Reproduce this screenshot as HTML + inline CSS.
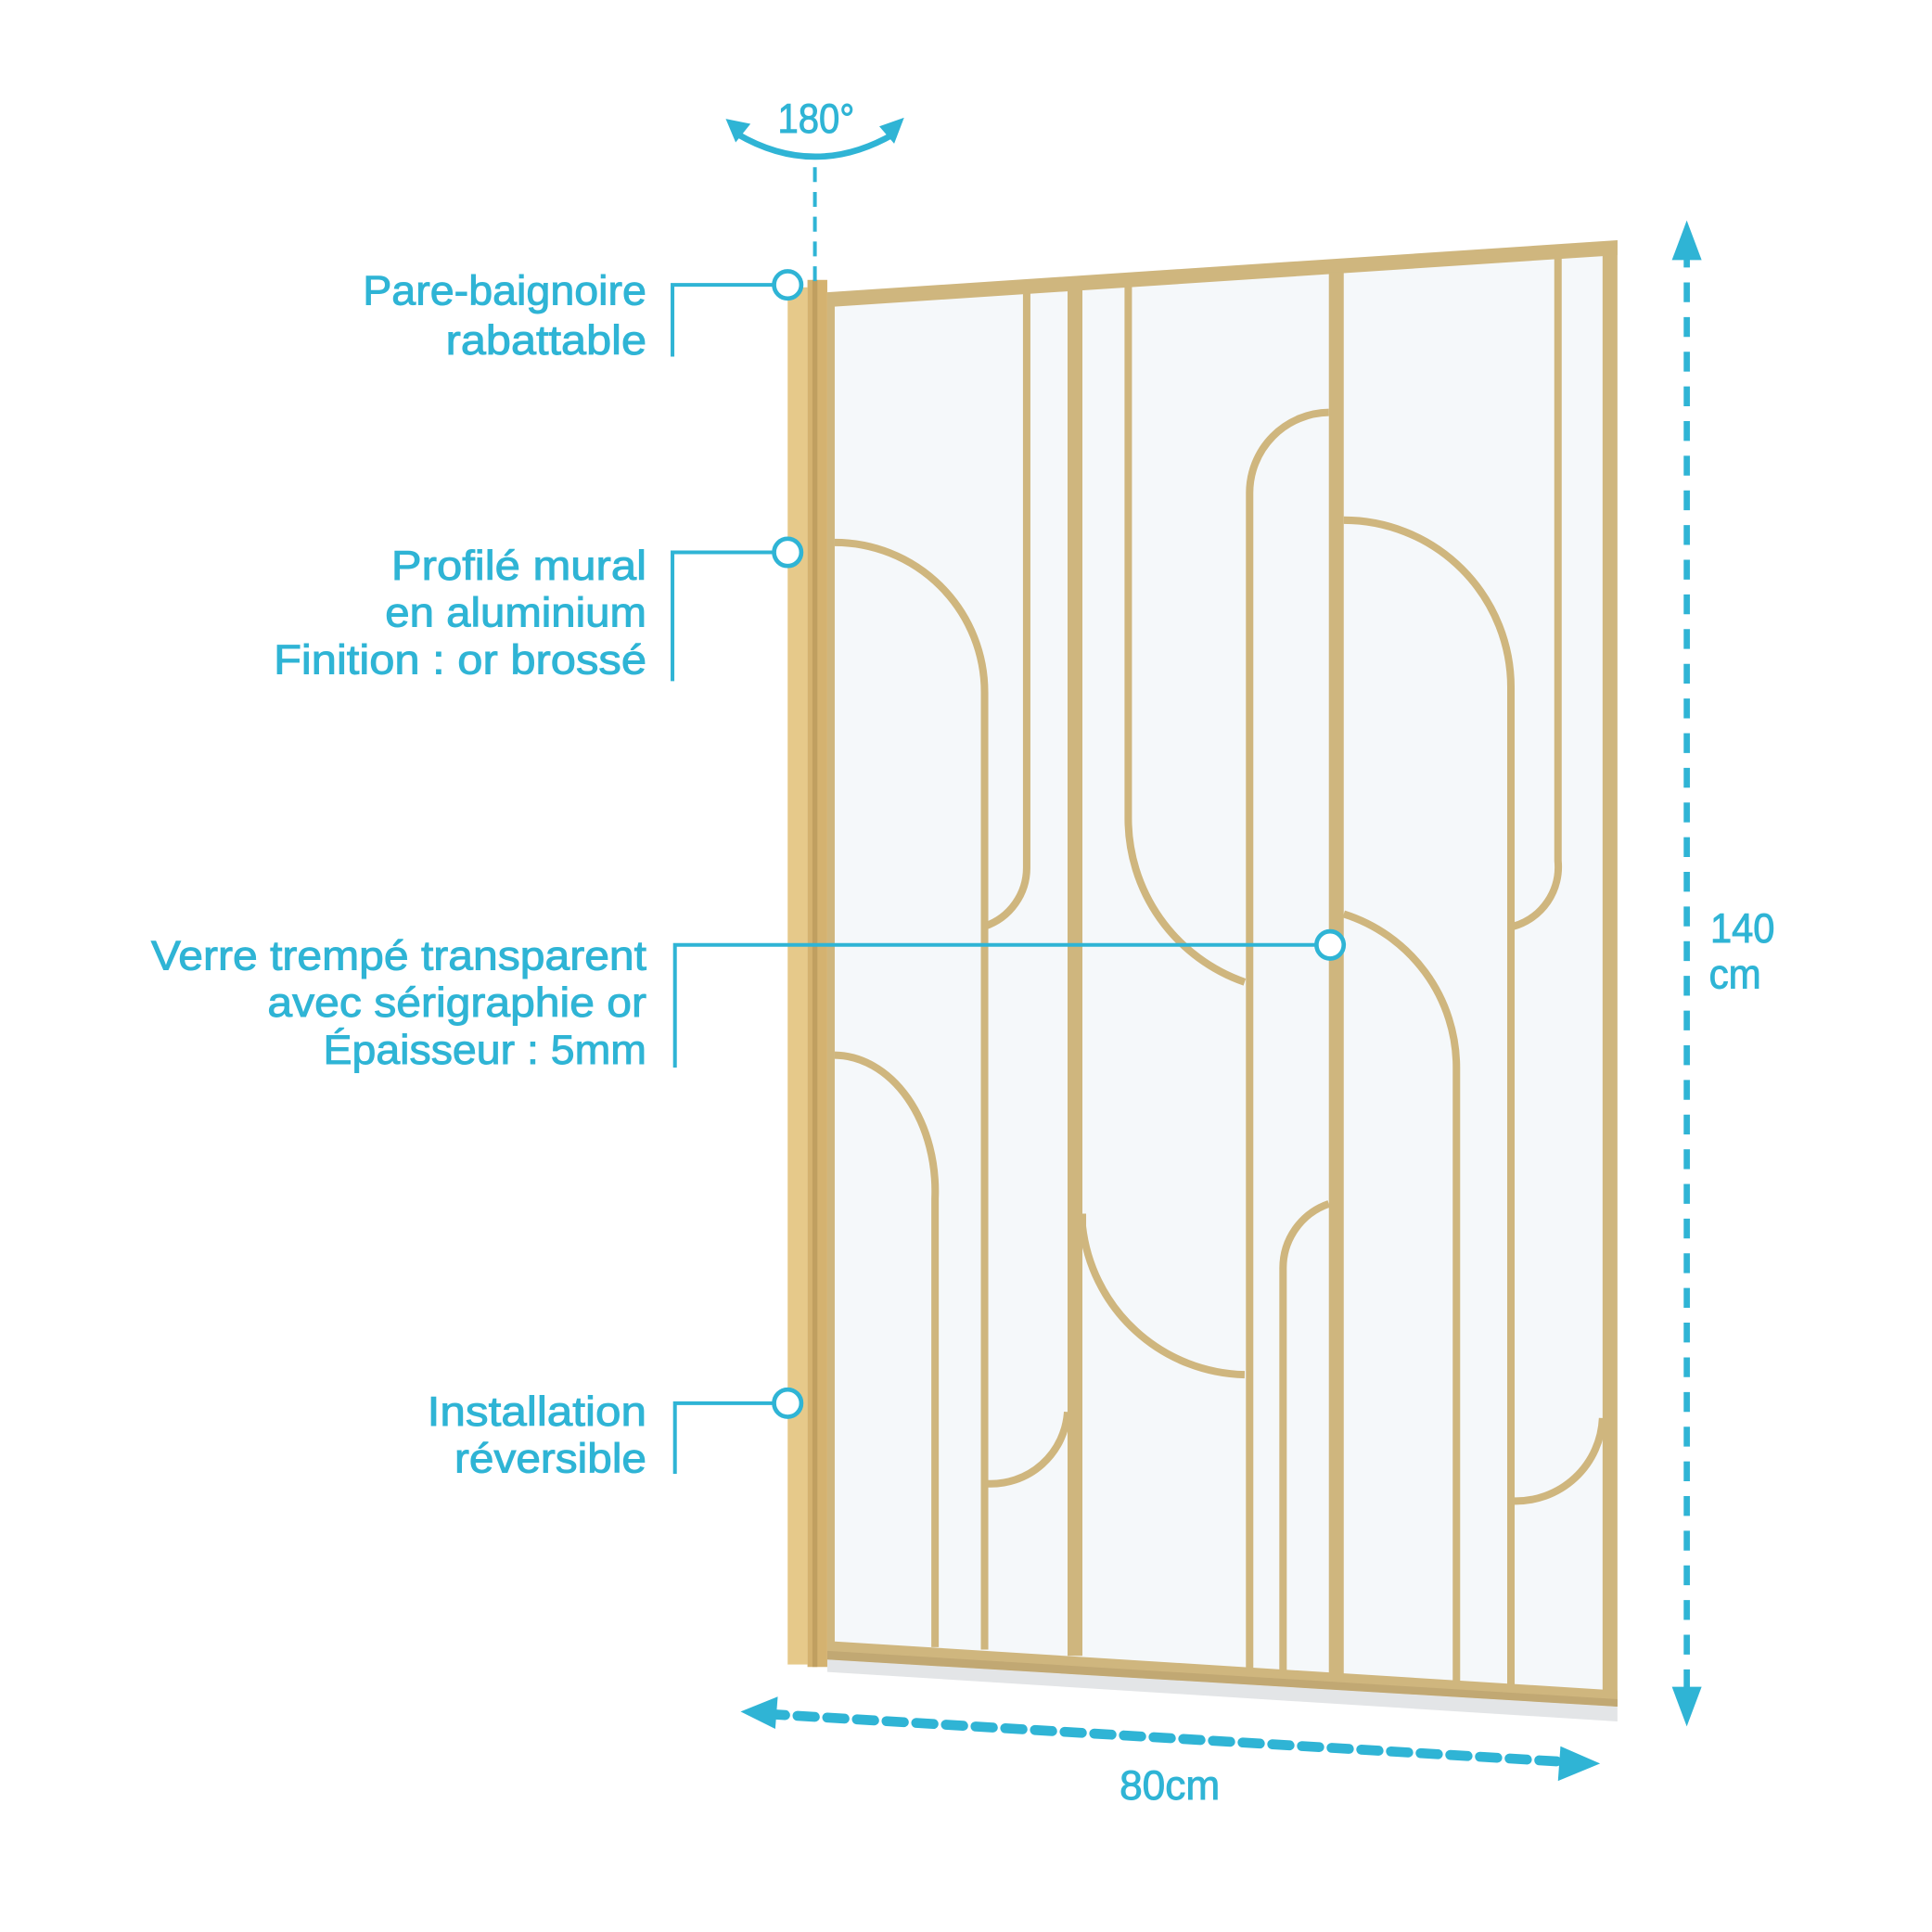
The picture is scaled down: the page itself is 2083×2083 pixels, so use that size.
<!DOCTYPE html>
<html><head><meta charset="utf-8"><style>
html,body{margin:0;padding:0;background:#fff;}
svg{display:block;}
text{font-family:"Liberation Sans Narrow","Liberation Sans",sans-serif;fill:#2fb4d5;stroke:#2fb4d5;stroke-width:0.7;font-size:33px;}
</style></head><body>
<svg width="2083" height="2083" viewBox="0 0 1560 1560" xmlns="http://www.w3.org/2000/svg">
<rect width="1560" height="1560" fill="#fff"/>
<polygon points="668,1340 1306,1378 1306,1390 668,1350" fill="#e3e5e7"/>
<polygon points="668,236 1306,194 1306,1378 668,1340" fill="#f5f8fa"/>
<g fill="#cfb67e">
<polygon points="668,236 1306,194 1306,206 668,248"/>
<polygon points="1294,200 1306,194 1306,1378 1294,1377"/>
<polygon points="668,1325 1306,1365 1306,1378 668,1340"/>
<rect x="668" y="240" width="6" height="1090"/>
</g>
<polygon points="668,1333 1306,1372 1306,1378 668,1340" fill="#b89f6c" opacity="0.6"/>
<g fill="none" stroke="#cfb67e" stroke-width="6">
<path d="M829,236 V700 A50,50 0 0 1 795,748"/>
<path d="M674,438 A121,121 0 0 1 795,559 V1332"/>
<path d="M911,231 V660 A140,140 0 0 0 1005,793"/>
<path d="M1073,333 A65,65 0 0 0 1009,398 V1348"/>
<path d="M1085,420 A135,135 0 0 1 1220,555 V1360"/>
<path d="M1258,208 V695 A50,50 0 0 1 1222,748"/>
<path d="M1085,738 A130,130 0 0 1 1176,862 V1358"/>
<path d="M1073,972 A55,55 0 0 0 1036,1025 V1350"/>
<path d="M874,980 V990 A135,135 0 0 0 1005,1110"/>
<path d="M674,852 A82,110 0 0 1 755,968 V1330"/>
<path d="M862,1140 A62,62 0 0 1 797,1198"/>
<path d="M1294,1145 A70,70 0 0 1 1222,1212"/>
</g>
<g fill="#cfb67e">
<rect x="862" y="232" width="12" height="1105"/>
<rect x="1073" y="220" width="12" height="1135"/>
</g>
<rect x="636" y="232" width="16" height="1112" fill="#e6c98a"/>
<rect x="652" y="226" width="16" height="1120" fill="#d4b270"/>
<rect x="656" y="226" width="4" height="1120" fill="#b8975a" opacity="0.7"/>
<g stroke="#2fb4d5" fill="none" stroke-width="5">
<path d="M595,108 Q658,145 722,108"/>
<line x1="658" y1="135" x2="658" y2="228" stroke-width="3" stroke-dasharray="12,8"/>
<line x1="1362" y1="200" x2="1362" y2="1372" stroke-dasharray="16,12" stroke-width="5"/>
<line x1="620" y1="1384" x2="1270" y2="1423" stroke-dasharray="14,10" stroke-width="8" stroke-linecap="round"/>
</g>
<g fill="#2fb4d5">
<polygon points="586,96 606,100 594,115"/>
<polygon points="730,95 722,116 710,102"/>
<polygon points="1362,178 1350,210 1374,210"/>
<polygon points="1362,1394 1350,1362 1374,1362"/>
<polygon points="598,1382 628,1370 626,1396"/>
<polygon points="1292,1424 1260,1410 1258,1438"/>
</g>
<g stroke="#2fb4d5" stroke-width="3" fill="none">
<path d="M543,288 V230 H625"/>
<path d="M543,550 V446 H625"/>
<path d="M545,862 V763 H1063"/>
<path d="M545,1190 V1133 H625"/>
</g>
<g stroke="#2fb4d5" stroke-width="3.5" fill="#fff">
<circle cx="636" cy="230" r="11"/>
<circle cx="636" cy="446" r="11"/>
<circle cx="1074" cy="763" r="11"/>
<circle cx="636" cy="1133" r="11"/>
</g>
<g>
<text x="293" y="246" textLength="229" lengthAdjust="spacingAndGlyphs">Pare-baignoire</text>
<text x="360" y="286" textLength="162" lengthAdjust="spacingAndGlyphs">rabattable</text>
<text x="316" y="468" textLength="206" lengthAdjust="spacingAndGlyphs">Profilé mural</text>
<text x="311" y="506" textLength="211" lengthAdjust="spacingAndGlyphs">en aluminium</text>
<text x="221" y="544" textLength="301" lengthAdjust="spacingAndGlyphs">Finition : or brossé</text>
<text x="122" y="783" textLength="400" lengthAdjust="spacingAndGlyphs">Verre trempé transparent</text>
<text x="216" y="821" textLength="306" lengthAdjust="spacingAndGlyphs">avec sérigraphie or</text>
<text x="261" y="859" textLength="261" lengthAdjust="spacingAndGlyphs">Épaisseur : 5mm</text>
<text x="345" y="1151" textLength="177" lengthAdjust="spacingAndGlyphs">Installation</text>
<text x="367" y="1189" textLength="155" lengthAdjust="spacingAndGlyphs">réversible</text>
<text x="628" y="107" textLength="62" lengthAdjust="spacingAndGlyphs">180°</text>
<text x="1381" y="761" textLength="52" lengthAdjust="spacingAndGlyphs">140</text>
<text x="1380" y="798" textLength="42" lengthAdjust="spacingAndGlyphs">cm</text>
<text x="904" y="1453" textLength="81" lengthAdjust="spacingAndGlyphs">80cm</text>
</g>
</svg>
</body></html>
